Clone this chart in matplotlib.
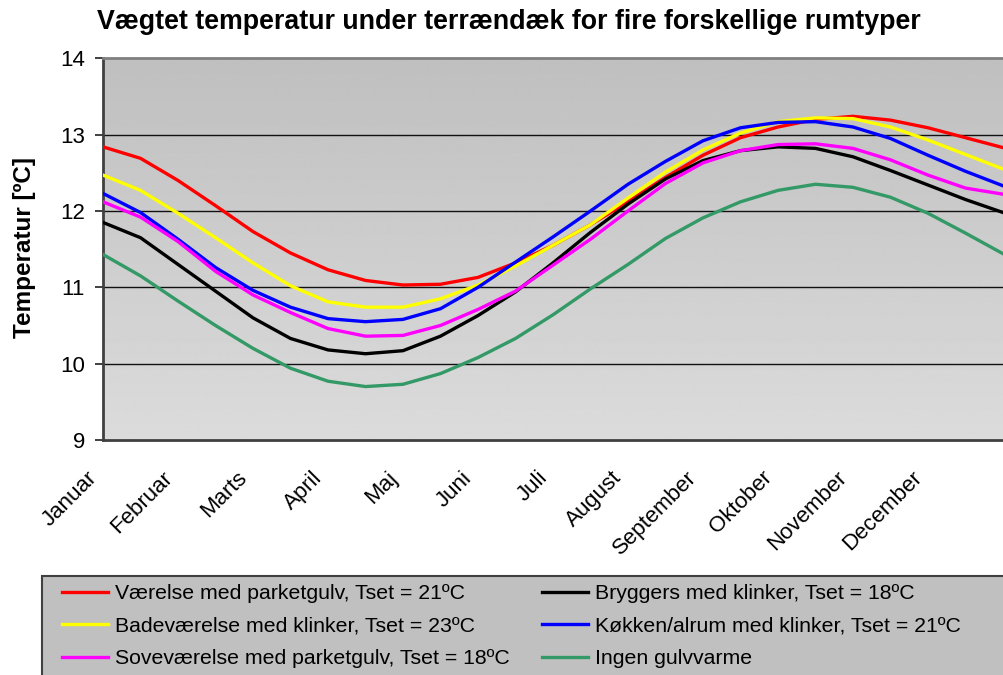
import matplotlib.pyplot as plt
import numpy as np
from matplotlib.patches import Rectangle
from matplotlib.transforms import ScaledTranslation

plt.rcParams['font.family'] = ['Liberation Sans', 'DejaVu Sans']

months = ['Januar', 'Februar', 'Marts', 'April', 'Maj', 'Juni', 'Juli',
          'August', 'September', 'Oktober', 'November', 'December']

# sample points every half month, 0 = start of januar, 12 = end of december
t = np.arange(0, 12.5, 0.5)

vaerelse = [12.84, 12.69, 12.40, 12.07, 11.73, 11.45, 11.23, 11.09, 11.03, 11.04, 11.13, 11.32, 11.55,
            11.82, 12.12, 12.44, 12.73, 12.96, 13.10, 13.20, 13.24, 13.19, 13.09, 12.96, 12.83]
bryggers = [11.85, 11.65, 11.30, 10.95, 10.60, 10.33, 10.18, 10.13, 10.17, 10.36, 10.63, 10.94, 11.32,
            11.72, 12.09, 12.42, 12.66, 12.79, 12.84, 12.82, 12.71, 12.53, 12.34, 12.15, 11.98]
badevaerelse = [12.47, 12.27, 11.97, 11.65, 11.32, 11.02, 10.81, 10.74, 10.74, 10.85, 11.03, 11.28, 11.55,
                11.82, 12.17, 12.51, 12.80, 13.02, 13.17, 13.22, 13.21, 13.10, 12.93, 12.74, 12.55]
koekken = [12.23, 11.98, 11.63, 11.26, 10.96, 10.74, 10.59, 10.55, 10.58, 10.72, 11.00, 11.33, 11.66,
           12.00, 12.35, 12.65, 12.92, 13.09, 13.16, 13.17, 13.10, 12.95, 12.73, 12.52, 12.33]
sovevaerelse = [12.12, 11.92, 11.60, 11.21, 10.90, 10.67, 10.46, 10.36, 10.37, 10.50, 10.71, 10.95, 11.29,
                11.63, 12.00, 12.36, 12.63, 12.79, 12.87, 12.88, 12.82, 12.67, 12.47, 12.30, 12.22]
ingen = [11.43, 11.15, 10.82, 10.50, 10.20, 9.94, 9.77, 9.70, 9.73, 9.87, 10.08, 10.33, 10.64,
         10.98, 11.30, 11.64, 11.91, 12.12, 12.27, 12.35, 12.31, 12.18, 11.97, 11.71, 11.44]

# plotting order (later series on top)
series = [
    (vaerelse, '#ff0000', 'Værelse med parketgulv, Tset = 21ºC'),
    (bryggers, '#000000', 'Bryggers med klinker, Tset = 18ºC'),
    (badevaerelse, '#ffff00', 'Badeværelse med klinker, Tset = 23ºC'),
    (koekken, '#0000ff', 'Køkken/alrum med klinker, Tset = 21ºC'),
    (sovevaerelse, '#ff00ff', 'Soveværelse med parketgulv, Tset = 18ºC'),
    (ingen, '#339966', 'Ingen gulvvarme'),
]

W, H = 1004, 675
fig = plt.figure(figsize=(W / 100, H / 100), dpi=100)
ax = fig.add_axes([103 / W, 1 - 440 / H, 900 / W, (440 - 58.3) / H])

# grey gradient behind the curves
grad = np.linspace(0.75, 0.86, 200).reshape(-1, 1)
ax.imshow(grad, extent=[0, 12, 9, 14], aspect='auto', cmap='gray',
          vmin=0, vmax=1, origin='upper', zorder=0, interpolation='bilinear')
for y in [10, 11, 12, 13]:
    ax.axhline(y, color='#111111', lw=1.0, zorder=1)

lines = {}
for vals, col, lab in series:
    ln, = ax.plot(t, vals, color=col, lw=2.4, label=lab, zorder=3,
                  solid_joinstyle='round')
    lines[lab] = ln

ax.set_xlim(0, 12)
ax.set_ylim(9, 14)
ax.set_yticks([9, 10, 11, 12, 13, 14])
ax.tick_params(axis='y', labelsize=16, length=6, width=1.4, color='#404040', pad=7)
ax.set_xticks(range(12))
ax.set_xticklabels(months, rotation=45, ha='right', va='center',
                   rotation_mode='anchor', fontsize=16)
ax.tick_params(axis='x', length=0, pad=25)
shift = ScaledTranslation(-9 / 100, 0, fig.dpi_scale_trans)
for lbl in ax.get_xticklabels():
    lbl.set_transform(lbl.get_transform() + shift)

ax.spines['right'].set_visible(False)
ax.spines['top'].set_color('#808080')
ax.spines['top'].set_linewidth(2)
for s in ['left', 'bottom']:
    ax.spines[s].set_color('#404040')
    ax.spines[s].set_linewidth(2)

fig.text(509 / W, 1 - 22 / H,
         'Vægtet temperatur under terrændæk for fire forskellige rumtyper',
         ha='center', va='center', fontsize=19.3, fontweight='bold')
fig.text(25 / W, 1 - 247 / H, 'Temperatur [ºC]', rotation=90,
         ha='center', va='center', fontsize=17.5, fontweight='bold')

# legend box running off the right and bottom edges
fig.add_artist(Rectangle((42 / W, -0.02), 1.0, 0.02 + (675 - 576) / H,
                         transform=fig.transFigure, facecolor='#c0c0c0',
                         edgecolor='#404040', lw=1.5, zorder=0))
order = ['Værelse med parketgulv, Tset = 21ºC',
         'Badeværelse med klinker, Tset = 23ºC',
         'Soveværelse med parketgulv, Tset = 18ºC',
         'Bryggers med klinker, Tset = 18ºC',
         'Køkken/alrum med klinker, Tset = 21ºC',
         'Ingen gulvvarme']
fig.legend([lines[k] for k in order], order, ncol=2, loc='upper left',
           bbox_to_anchor=(62 / W, 1 - 584 / H), frameon=False, fontsize=15.3,
           handlelength=2.15, handletextpad=0.33, columnspacing=1.55,
           labelspacing=0.64, borderpad=0, borderaxespad=0)

fig.savefig('out.png', dpi=100)
